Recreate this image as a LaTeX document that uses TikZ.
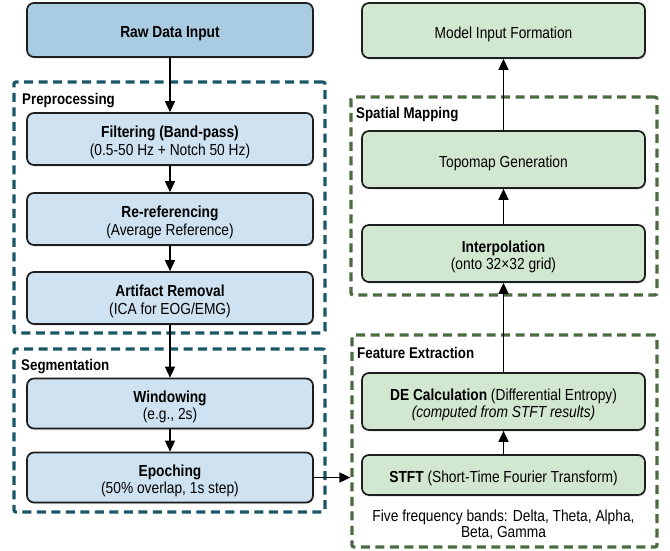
\documentclass[tikz,border=0pt]{standalone}
\usepackage{fontspec}
\setmainfont{Liberation Sans}[FakeStretch=0.86]
\usetikzlibrary{arrows.meta,shadows}
\definecolor{bluefill}{HTML}{CFE2F1}
\definecolor{rawfill}{HTML}{A9CCE2}
\definecolor{greenfill}{HTML}{D2E7CF}
\definecolor{tealdash}{HTML}{1B5867}
\definecolor{greendash}{HTML}{4B6B40}
\definecolor{boxline}{HTML}{1E1E1E}
\newcommand\bxtext[1]{\raisebox{-4pt}[\height][\depth]{\begin{tabular}{@{}c@{}}#1\end{tabular}}}
\tikzset{
  procbox/.style={draw=boxline, line width=1.7pt, rounded corners=7pt,
    inner sep=2pt, font=\fontsize{16}{17.5}\selectfont,
    drop shadow={opacity=0.25, shadow xshift=1pt, shadow yshift=-1.5pt}},
  bluebox/.style={procbox, fill=bluefill, minimum width=286pt},
  rawbox/.style={procbox, fill=rawfill, minimum width=286pt},
  greenbox/.style={procbox, fill=greenfill, minimum width=283pt},
  groupbox/.style={draw, line width=3.2pt, dash pattern=on 9pt off 5.5pt, rounded corners=2pt, inner sep=0pt},
  tealgroup/.style={groupbox, draw=tealdash},
  greengroup/.style={groupbox, draw=greendash},
  grouplabel/.style={anchor=base west, inner sep=0pt, font=\fontsize{15.5}{18}\selectfont\bfseries},
  arr/.style={-{Triangle[length=11pt,width=10pt]}, line width=1.6pt, draw=black},
  plaintext/.style={align=center, inner sep=0pt, font=\fontsize{16}{16}\selectfont}
}
\begin{document}
\begin{tikzpicture}[x=1pt,y=-1pt]
\useasboundingbox[fill=white] (0,0) rectangle (670,550);
% group boxes
\node[tealgroup, minimum width=311pt, minimum height=251pt] (pre) at (169.5,207.5) {};
\node[tealgroup, minimum width=311pt, minimum height=163pt] (seg) at (169.5,430.5) {};
\node[greengroup, minimum width=306pt, minimum height=198pt] (sm) at (504,196) {};
\node[greengroup, minimum width=305pt, minimum height=212pt] (fe) at (504.5,441) {};
\node[grouplabel] (prelab) at (22,104) {Preprocessing};
\node[grouplabel] (seglab) at (21,370.5) {Segmentation};
\node[grouplabel] (smlab) at (356,118.5) {Spatial Mapping};
\node[grouplabel] (felab) at (357,358.5) {Feature Extraction};
% left column
\node[rawbox, minimum height=54pt] (raw) at (170,30) {\bxtext{\textbf{Raw Data Input}}};
\node[bluebox, minimum height=52pt] (filt) at (170,139) {\bxtext{\textbf{Filtering (Band-pass)}\\(0.5-50 Hz + Notch 50 Hz)}};
\node[bluebox, minimum height=52pt] (reref) at (170,219) {\bxtext{\textbf{Re-referencing}\\(Average Reference)}};
\node[bluebox, minimum height=52pt] (artif) at (170,298) {\bxtext{\textbf{Artifact Removal}\\(ICA for EOG/EMG)}};
\node[bluebox, minimum height=50pt] (wind) at (170,403.5) {\bxtext{\textbf{Windowing}\\(e.g., 2s)}};
\node[bluebox, minimum height=50pt] (epoch) at (170,477.5) {\bxtext{\textbf{Epoching}\\(50\% overlap, 1s step)}};
% right column
\node[greenbox, minimum height=55pt] (model) at (503.5,30.5) {\bxtext{Model Input Formation}};
\node[greenbox, minimum height=57pt] (topo) at (503.5,159.5) {\bxtext{Topomap Generation}};
\node[greenbox, minimum height=57pt] (interp) at (503.5,253.5) {\bxtext{\textbf{Interpolation}\\(onto 32×32 grid)}};
\node[greenbox, minimum height=57pt] (de) at (503.5,401.5) {\bxtext{\textbf{DE Calculation} (Differential Entropy)\\\textit{(computed from STFT results)}}};
\node[greenbox, minimum height=40pt] (stft) at (503.5,475) {\bxtext{\textbf{STFT} (Short-Time Fourier Transform)}};
\node[plaintext] (bands) at (503.5,524.5) {Five frequency bands: Delta, Theta, Alpha,\\Beta, Gamma};
% arrows
\draw[arr] (raw) -- (filt);
\draw[arr] (filt) -- (reref);
\draw[arr] (reref) -- (artif);
\draw[arr] (artif) -- (wind);
\draw[arr] (wind) -- (epoch);
\coordinate (feentry) at (epoch.east -| fe.west);
\draw[arr] (epoch.east) -- (feentry);
\draw[arr] (stft) -- (de);
\draw[arr] (de) -- (interp);
\draw[arr] (interp) -- (topo);
\draw[arr] (topo) -- (model);
\end{tikzpicture}
\end{document}
